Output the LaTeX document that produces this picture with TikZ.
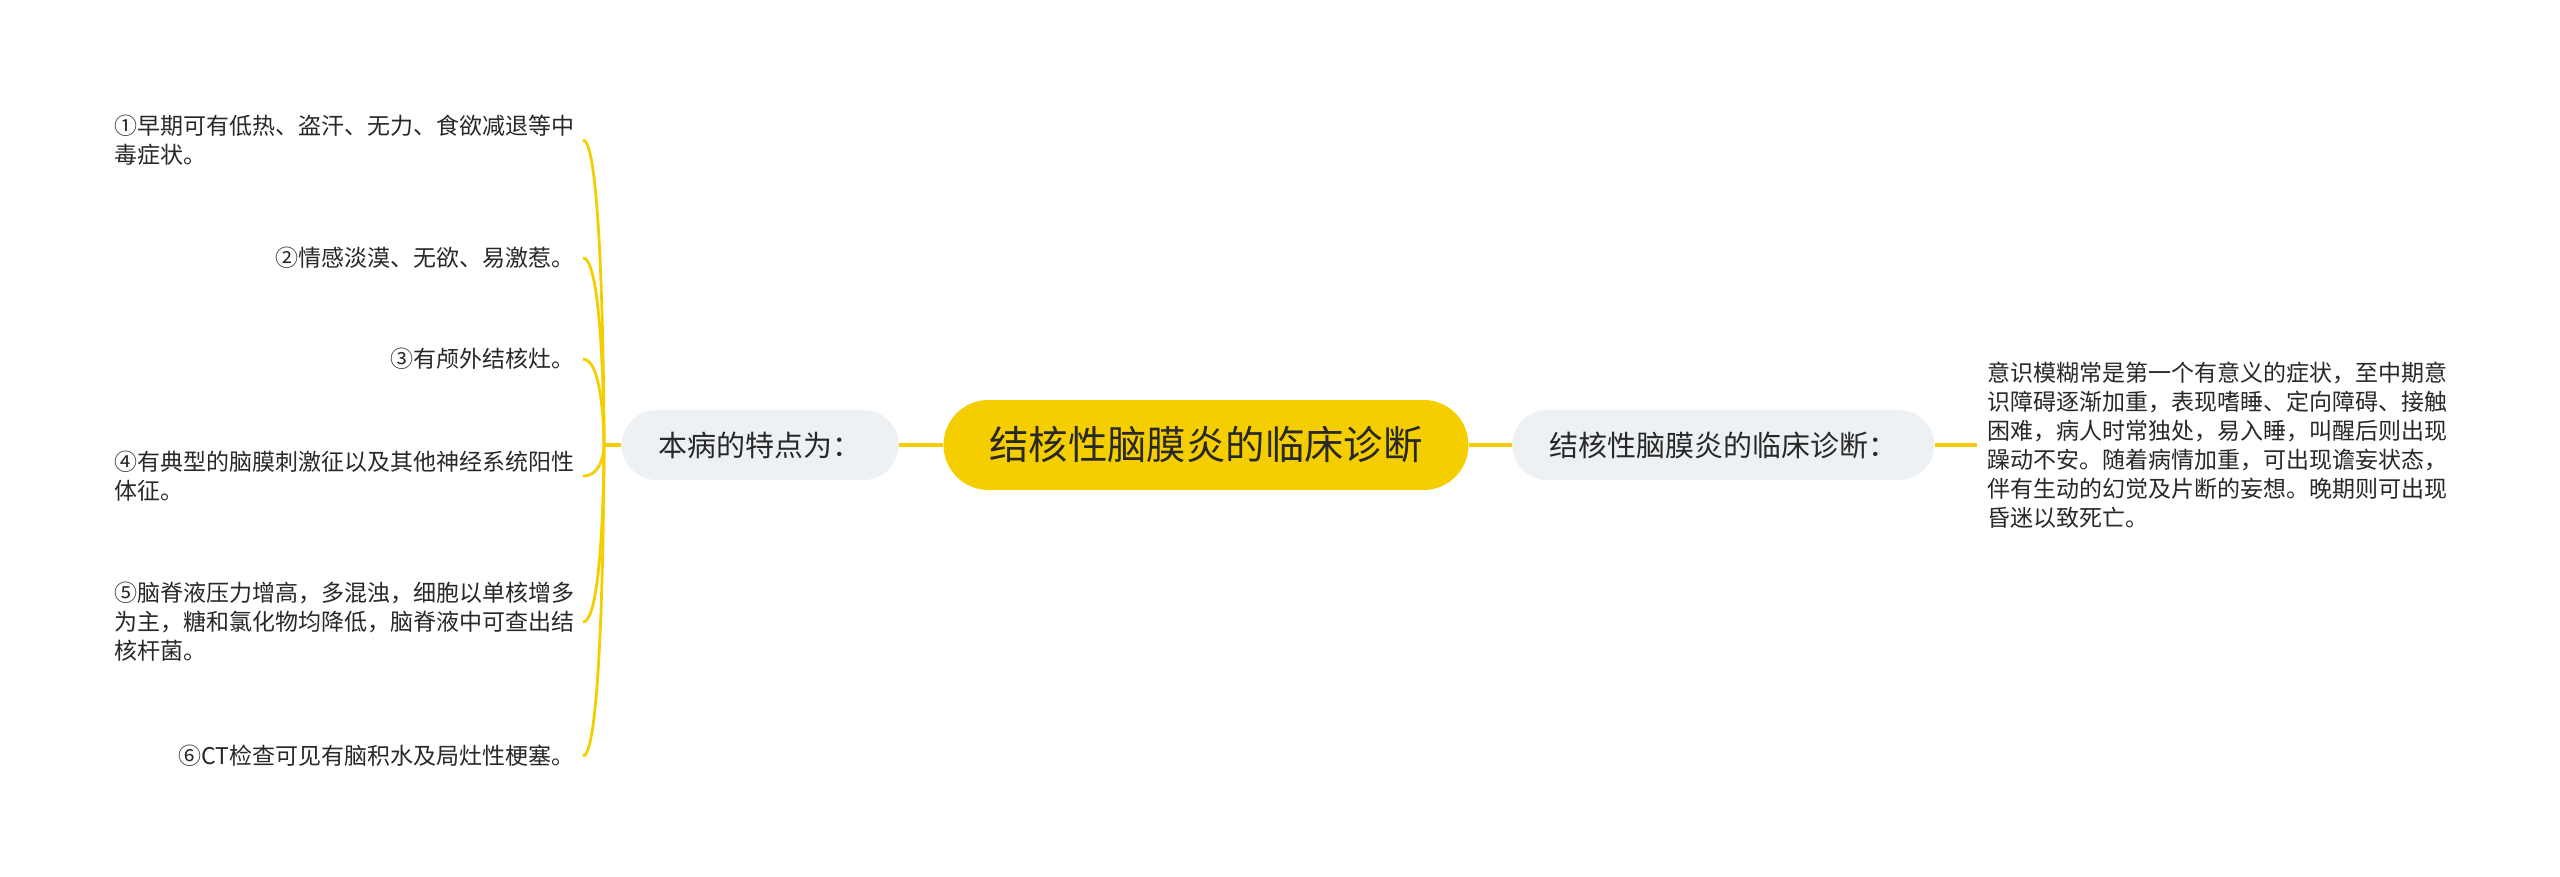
\documentclass[tikz,border=0pt]{standalone}
\usepackage{fontspec}
\setmainfont{Noto Sans CJK SC}
\usetikzlibrary{positioning, calc}
\definecolor{amarillo}{RGB}{245,206,0}
\definecolor{grisClaro}{RGB}{238,241,244}
\definecolor{texto}{RGB}{40,40,40}

\begin{document}
\begin{tikzpicture}
        [
        x=0.5pt, y=-0.5pt,
            principal/.style={
                rectangle,
                rounded corners=22.5pt,
                fill=amarillo,
                text=texto,
                minimum width=262.5pt,
                minimum height=45pt,
                font=\fontsize{19.7}{24}\selectfont
            },
            secundario/.style={
                rectangle,
                rounded corners=17.5pt,
                fill=grisClaro,
                text=texto,
                minimum height=35pt,
                inner xsep=18.5pt,
                font=\fontsize{14.5}{18}\selectfont
            },
            hoja/.style={
                align=left,
                inner sep=4pt,
                text=texto,
                font=\fontsize{11.5}{14.5}\selectfont
            },
            lineaPrincipal/.style={
                draw=amarillo,
                line width=1.7pt
            },
            lineaRama/.style={
                draw=amarillo,
                line width=1.4pt
            }
        ]
        \useasboundingbox (0,0) rectangle (2560,877);

        \node(diagnostico) [principal] at (1206,445) {结核性脑膜炎的临床诊断};
        \node(caracteristicas) [secundario, left=22pt of diagnostico] {本病的特点为：};
        \node(clinica) [secundario, right=21.5pt of diagnostico] {结核性脑膜炎的临床诊断：};
        \node(descripcion) [hoja, inner sep=5pt, right=21pt of clinica] {意识模糊常是第一个有意义的症状，至中期意\\识障碍逐渐加重，表现嗜睡、定向障碍、接触\\困难，病人时常独处，易入睡，叫醒后则出现\\躁动不安。随着病情加重，可出现谵妄状态，\\伴有生动的幻觉及片断的妄想。晚期则可出现\\昏迷以致死亡。};

        % puntos del lado izquierdo
        \coordinate(union) at (604,445);
        \node(punto1) [hoja, anchor=east] at (583,140) {①早期可有低热、盗汗、无力、食欲减退等中\\毒症状。};
        \node(punto2) [hoja, anchor=east] at (583,258) {②情感淡漠、无欲、易激惹。};
        \node(punto3) [hoja, anchor=east] at (583,359) {③有颅外结核灶。};
        \node(punto4) [hoja, anchor=east] at (583,476) {④有典型的脑膜刺激征以及其他神经系统阳性\\体征。};
        \node(punto5) [hoja, anchor=east] at (583,622) {⑤脑脊液压力增高，多混浊，细胞以单核增多\\为主，糖和氯化物均降低，脑脊液中可查出结\\核杆菌。};
        \node(punto6) [hoja, anchor=east] at (583,756) {⑥CT检查可见有脑积水及局灶性梗塞。};

        \draw[lineaPrincipal] (diagnostico)--(caracteristicas);
        \draw[lineaPrincipal] (diagnostico)--(clinica);
        \draw[lineaPrincipal] (clinica)--(descripcion);
        \draw[lineaPrincipal] (caracteristicas.west)--(union);

        \foreach \p in {punto1,punto2,punto3,punto4,punto5,punto6}
            \draw[lineaRama] (\p.east) .. controls (\p.east -| union) and (union) .. (union);
    \end{tikzpicture}
\end{document}
